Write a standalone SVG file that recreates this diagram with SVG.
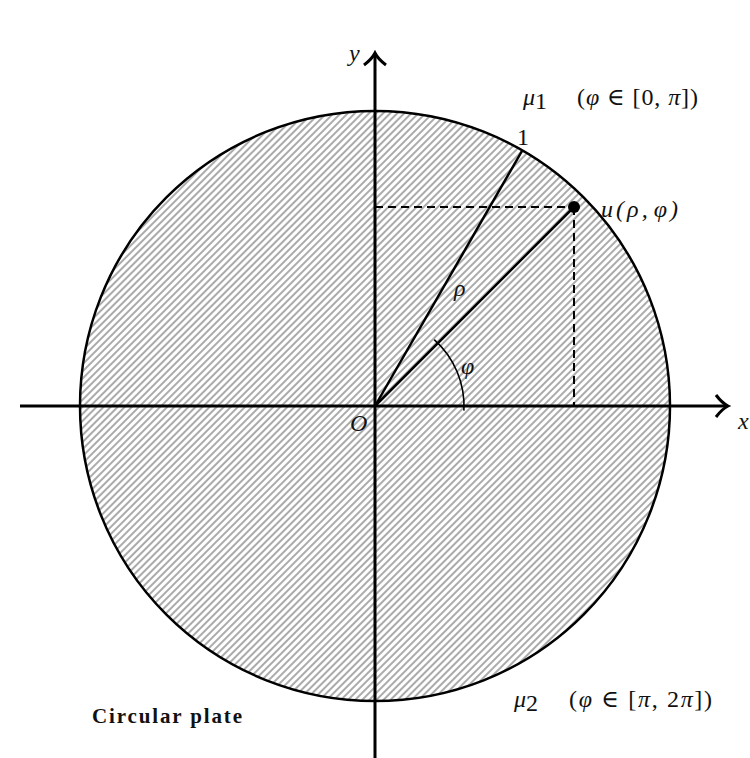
<svg xmlns="http://www.w3.org/2000/svg" width="750" height="758" viewBox="0 0 750 758">
<style>
.m{font-family:"Liberation Serif","DejaVu Serif",serif;font-style:italic;font-size:24px;fill:#111}
.r{font-family:"Liberation Serif","DejaVu Serif",serif;font-style:normal;font-size:24px;fill:#111}
.b{font-family:"Liberation Serif",serif;font-weight:bold;font-size:21px;fill:#111}
.ax{stroke:#000;stroke-width:3;fill:none}
.ln{stroke:#000;stroke-width:2.5;fill:none}
.ds{stroke:#000;stroke-width:2;stroke-dasharray:8 5;fill:none}
</style>
<defs>
<pattern id="hatch" patternUnits="userSpaceOnUse" width="5" height="10" patternTransform="rotate(45)">
<line x1="1" y1="0" x2="1" y2="10" stroke="#555" stroke-width="1"/>
</pattern>
</defs>
<rect width="750" height="758" fill="#fff"/>
<g id="plate">
<circle cx="375" cy="406" r="295" fill="url(#hatch)" stroke="#000" stroke-width="2.5"/>
</g>
<g id="connectors">
<line class="ax" x1="20" y1="406" x2="727" y2="406"/>
<path class="ax" d="M716,395 Q722,403 728,406 Q722,409 716,417"/>
<line class="ax" x1="375" y1="758" x2="375" y2="54"/>
<path class="ax" d="M364,65 Q372,59 375,53 Q378,59 386,65"/>
<line class="ln" x1="375" y1="406" x2="522" y2="151"/>
<line class="ln" x1="375" y1="406" x2="574" y2="207"/>
<line class="ds" x1="375" y1="207" x2="574" y2="207"/>
<line class="ds" x1="574" y1="207" x2="574" y2="406"/>
<path d="M434.2,339.6 A89,89 0 0 1 463.9,410.6" stroke="#000" stroke-width="1.6" fill="none"/>
</g>
<g id="point">
<circle cx="574" cy="207" r="6" fill="#000"/>
</g>
<g id="labels">
<text class="m" x="349" y="61">y</text>
<text class="m" x="738" y="429">x</text>
<text class="m" x="350" y="431">O</text>
<text class="r" x="517" y="145">1</text>
<text class="m" x="454" y="296">ρ</text>
<text class="m" x="461" y="374">φ</text>
<text class="m" x="601" y="217" textLength="77">u(ρ,<tspan dx="3">φ</tspan>)</text>
<text class="m" x="523" y="105">μ<tspan class="r" font-size="16" dy="4">1</tspan></text>
<text class="r" x="577" y="105" textLength="121">(<tspan class="m">φ</tspan> ∈ [0, <tspan class="m">π</tspan>])</text>
<text class="m" x="514" y="707">μ<tspan class="r" font-size="16" dy="4">2</tspan></text>
<text class="r" x="569" y="707" textLength="143">(<tspan class="m">φ</tspan> ∈ [<tspan class="m">π</tspan>, 2<tspan class="m">π</tspan>])</text>
<text class="b" x="92" y="723" textLength="150">Circular plate</text>
</g>
</svg>
